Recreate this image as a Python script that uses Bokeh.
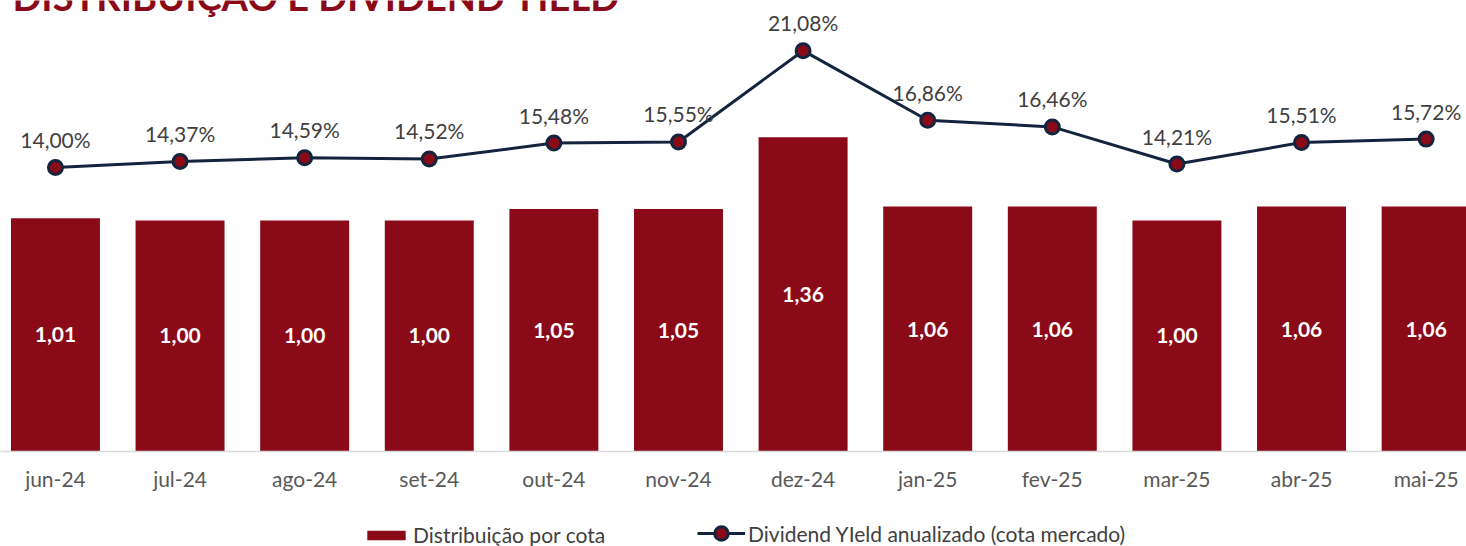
from bokeh.plotting import figure
from bokeh.layouts import column
from bokeh.models import Range1d, LinearAxis, FixedTicker, ColumnDataSource, Legend, LegendItem, Label
from bokeh.core.properties import value
from bokeh.embed import file_html
from bokeh.resources import INLINE

months = ["jun-24", "jul-24", "ago-24", "set-24", "out-24", "nov-24",
          "dez-24", "jan-25", "fev-25", "mar-25", "abr-25", "mai-25"]
distribuicao = [1.01, 1.00, 1.00, 1.00, 1.05, 1.05, 1.36, 1.06, 1.06, 1.00, 1.06, 1.06]
dividend_yield = [14.00, 14.37, 14.59, 14.52, 15.48, 15.55, 21.08, 16.86, 16.46, 14.21, 15.51, 15.72]

title_text = "DISTRIBUIÇÃO E DIVIDEND YIELD"
legend_bar = "Distribuição por cota"
legend_line = "Dividend YIeld anualizado (cota mercado)"

BAR = "#8B0A18"
NAVY = "#14243E"
FONT = "Lato"

xs = list(range(len(months)))
src = ColumnDataSource(dict(
    x=xs,
    dist=distribuicao,
    half=[v / 2 for v in distribuicao],
    dist_lbl=[f"{v:.2f}".replace(".", ",") for v in distribuicao],
    dy=dividend_yield,
    dy_lbl=[f"{v:.2f}%".replace(".", ",") for v in dividend_yield],
))

p = figure(width=1466, height=493, output_backend="svg", toolbar_location=None,
           x_range=Range1d(-0.441, 11.324), y_range=Range1d(0, 1.952),
           min_border_top=0, min_border_left=0, min_border_right=0, min_border_bottom=0,
           outline_line_color=None, x_axis_type=None, y_axis_type=None)
p.grid.visible = False
p.extra_y_ranges = {"dy": Range1d(-3.21, 24.12)}

xaxis = LinearAxis(ticker=FixedTicker(ticks=xs),
                   major_label_overrides={i: m for i, m in enumerate(months)})
xaxis.axis_line_color = "#D9D9D9"
xaxis.axis_line_width = 1.5
xaxis.major_tick_line_color = None
xaxis.minor_tick_line_color = None
xaxis.major_label_standoff = 8
xaxis.major_label_text_font = FONT
xaxis.major_label_text_font_size = "21px"
xaxis.major_label_text_color = "#595959"
p.add_layout(xaxis, "below")

bars = p.vbar(x="x", top="dist", width=0.714, source=src, fill_color=BAR, line_color=None)
p.text(x="x", y="half", text="dist_lbl", source=src, text_align="center", text_baseline="middle",
       text_font=value(FONT), text_font_style="bold", text_font_size="21px", text_color="white")

ln = p.line(x="x", y="dy", source=src, y_range_name="dy", line_color=NAVY, line_width=3)
pts = p.scatter(x="x", y="dy", source=src, y_range_name="dy", size=14, fill_color=BAR,
                line_color=NAVY, line_width=3)
p.text(x="x", y="dy", text="dy_lbl", source=src, y_range_name="dy", text_align="center",
       text_baseline="middle", y_offset=-28, text_font=value(FONT), text_font_size="21px",
       text_color="#404040")

p.add_layout(Label(x=-0.345, y=1.909, y_offset=14, text=title_text, text_font=FONT,
                   text_font_style="bold", text_font_size="38px", text_color=BAR,
                   text_baseline="alphabetic", text_align="left"))

# legend strip (proxy renderers use the same data, placed outside its visible range)
q = figure(width=1466, height=53, output_backend="svg", toolbar_location=None,
           x_range=Range1d(100, 101), y_range=Range1d(100, 101),
           min_border_top=0, min_border_left=0, min_border_right=0, min_border_bottom=0,
           outline_line_color=None, x_axis_type=None, y_axis_type=None)
q.grid.visible = False
lb = q.vbar(x="x", top="dist", width=0.5, source=src, fill_color=BAR, line_color=None)
ll = q.line(x="x", y="dy", source=src, line_color=NAVY, line_width=3)
lp = q.scatter(x="x", y="dy", source=src, size=14, fill_color=BAR, line_color=NAVY, line_width=3)

common = dict(orientation="horizontal", margin=0, padding=0, label_standoff=3,
              label_text_font=FONT, label_text_font_size="21px", label_text_color="#404040",
              border_line_color=None, background_fill_alpha=0, label_height=22)
leg1 = Legend(items=[LegendItem(label=legend_bar, renderers=[lb])], location=(362, -1),
              glyph_width=48, glyph_height=12, **common)
leg2 = Legend(items=[LegendItem(label=legend_line, renderers=[ll, lp])], location=(697, -4),
              glyph_width=48, glyph_height=34, **common)
q.add_layout(leg1)
q.add_layout(leg2)

open("out.html", "w").write(file_html(column(p, q, spacing=0), INLINE))
